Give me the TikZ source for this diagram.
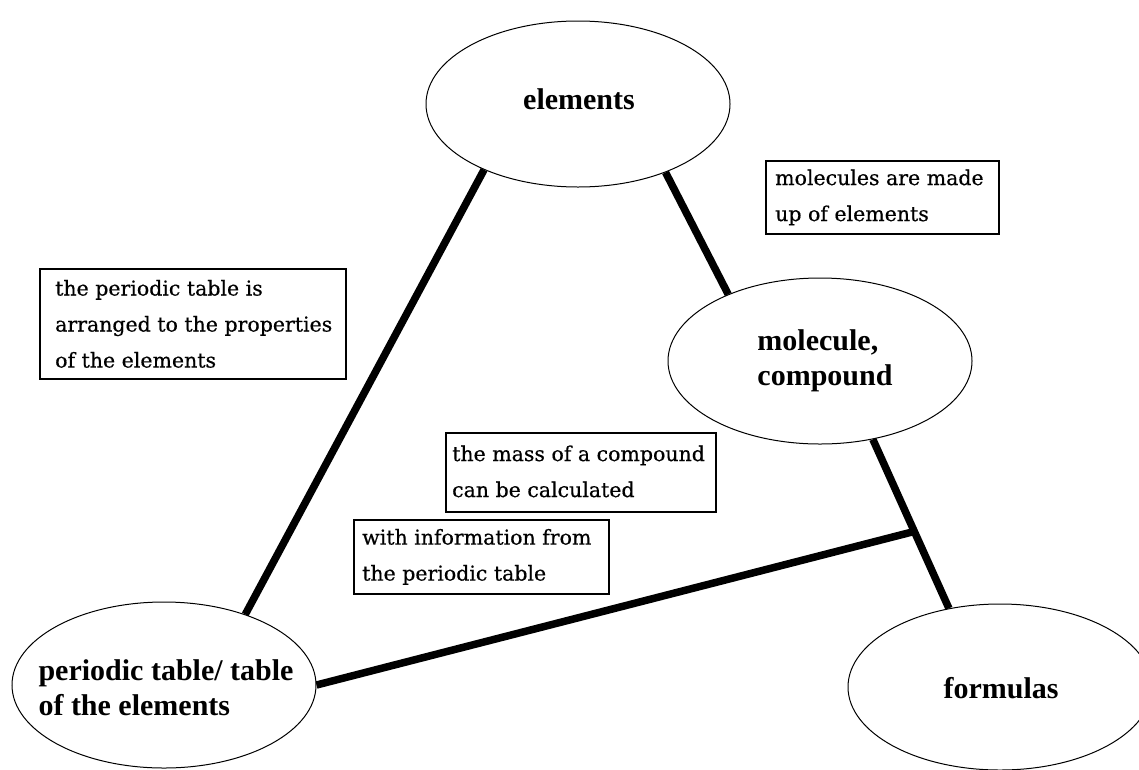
\documentclass[tikz,border=0pt]{standalone}
\usepackage{fontspec}
\setmainfont{DejaVu Serif}
\newfontfamily\boxfont[FakeBold=0.5]{DejaVu Serif}
\newfontfamily\lblfont{Liberation Serif}
\usetikzlibrary{shapes.geometric,calc}
\tikzset{
  ell/.style={draw, ellipse, line width=1pt, minimum width=304pt, minimum height=166pt, inner sep=0pt},
  lbl/.style={align=left, inner sep=0pt, font=\lblfont\bfseries\fontsize{30}{35}\selectfont},
  boxframe/.style={draw, line width=1.8pt, inner sep=0pt, anchor=north west},
  boxtext/.style={align=left, inner sep=0pt, anchor=west, font=\boxfont\fontsize{20.5}{36}\selectfont},
  conn/.style={line width=7.5pt, black}
}
\begin{document}
\begin{tikzpicture}[x=1pt,y=-1pt]
\useasboundingbox (0,0) rectangle (1139,769);
% ellipses
\node[ell] (elements) at (578,104) {};
\node[ell] (molecule) at (820,361) {};
\node[ell] (periodic) at (164,685) {};
\node[ell] (formulas) at (1000,687) {};
% ellipse labels
\node[lbl] (elementsT) at (579,99) {elements};
\node[lbl] (moleculeT) at (825,361) {molecule,\\compound};
\node[lbl] (periodicT) at (166,688) {periodic table/ table\\of the elements};
\node[lbl] (formulasT) at (1001,688) {formulas};
% connectors
\draw[conn] (elements.215) -- (periodic.41.6);
\draw[conn] (elements.-38.7) -- (molecule.144.4);
\draw[conn] (molecule.-56) -- (formulas.123.5);
\coordinate (j) at ($(molecule.-56)!0.545!(formulas.123.5)$);
\draw[conn] (periodic.east) -- (j);
% boxes
\node[boxframe, minimum width=233pt, minimum height=73pt] (b1) at (765,160) {};
\node[boxtext] (b1t) at ($(b1.west)+(10,0)$) {molecules are made\\up of elements};
\node[boxframe, minimum width=306pt, minimum height=110pt] (b2) at (39,268) {};
\node[boxtext] (b2t) at ($(b2.west)+(16,0)$) {the periodic table is\\arranged to the properties\\of the elements};
\node[boxframe, minimum width=270pt, minimum height=79pt] (b3) at (445,432) {};
\node[boxtext] (b3t) at ($(b3.west)+(7,-1)$) {the mass of a compound\\can be calculated};
\node[boxframe, minimum width=255pt, minimum height=74pt] (b4) at (353,519) {};
\node[boxtext] (b4t) at ($(b4.west)+(9,0)$) {with information from\\the periodic table};
\end{tikzpicture}
\end{document}
